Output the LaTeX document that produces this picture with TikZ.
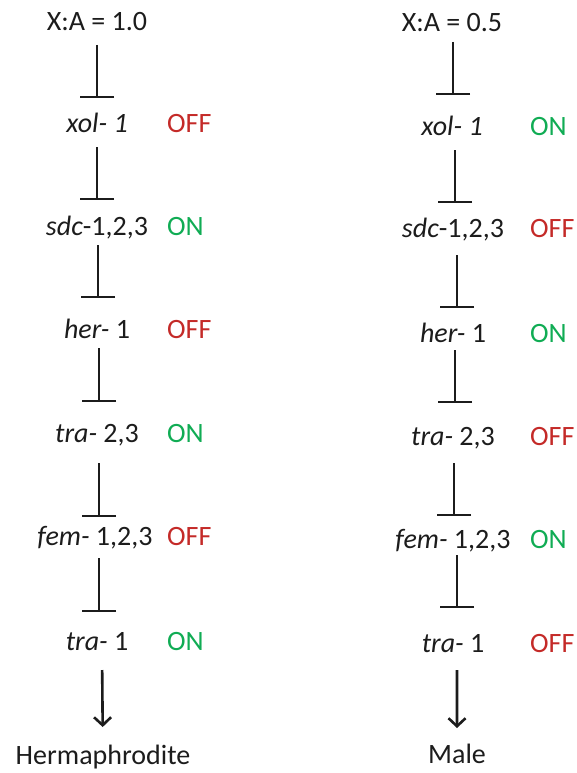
\documentclass[tikz,border=0pt]{standalone}
\usepackage{fontspec}
\setmainfont{Carlito}
\usetikzlibrary{arrows.meta}
\definecolor{ink}{RGB}{28,28,28}
\definecolor{offred}{RGB}{196,42,40}
\definecolor{ongreen}{RGB}{16,172,84}

\begin{document}
\begin{tikzpicture}[x=1bp, y=-1bp,
  every node/.style={inner sep=0pt, text=ink, font=\fontsize{28bp}{32bp}\selectfont},
  gene/.style={anchor=base},
  state/.style={anchor=base west},
  off/.style={state, text=offred},
  on/.style={state, text=ongreen},
  inhib/.style={draw=ink, line width=1.6bp, -{Bar[width=34bp, line width=1.7bp]}},
  act/.style={draw=ink, line width=2.6bp, -{Straight Barb[length=8bp, width=17bp, line width=2.6bp]}},
  gap/.style 2 args={shorten <=#1 bp, shorten >=#2 bp}]
\useasboundingbox (0,0) rectangle (577,773);

% ---- hermaphrodite pathway (X:A = 1.0)
\node[gene] (lxa)  at (97,31)  {X:A = 1.0};
\node[gene] (lxol) at (97,132) {\textit{xol- 1}};
\node[off]  (lxols) at (167,132) {OFF};
\node[gene] (lsdc) at (97,235) {\textit{sdc}-1,2,3};
\node[on]   (lsdcs) at (167,235) {ON};
\node[gene] (lher) at (97,338) {\textit{her-} 1};
\node[off]  (lhers) at (167,338) {OFF};
\node[gene] (ltra) at (97,442) {\textit{tra-} 2,3};
\node[on]   (ltras) at (167,442) {ON};
\node[gene] (lfem) at (95,545) {\textit{fem-} 1,2,3};
\node[off]  (lfems) at (167,545) {OFF};
\node[gene] (ltrb) at (97,650) {\textit{tra-} 1};
\node[on]   (ltrbs) at (167,650) {ON};
\node[gene] (lsex) at (103,764) {Hermaphrodite};

\draw[inhib, gap={14}{34}] (lxa.base) -- (lxol.base);
\draw[inhib, gap={15}{35}] (lxol.base) -- (lsdc.base);
\draw[inhib, gap={10}{40}] ([xshift=1bp]lsdc.base) -- ([xshift=1bp]lher.base);
\draw[inhib, gap={10}{40}] ([xshift=2bp]lher.base) -- ([xshift=2bp]ltra.base);
\draw[inhib, gap={21}{28}] ([xshift=2bp]ltra.base) -- ([xshift=4bp]lfem.base);
\draw[inhib, gap={13}{38}] ([xshift=4bp]lfem.base) -- ([xshift=2bp]ltrb.base);
\draw[act,   gap={20}{37}] ([xshift=5bp]ltrb.base) -- (lsex.base);

% ---- male pathway (X:A = 0.5)
\node[gene] (rxa)  at (452,32)  {X:A = 0.5};
\node[gene] (rxol) at (452,135) {\textit{xol- 1}};
\node[on]   (rxols) at (530,135) {ON};
\node[gene] (rsdc) at (453,237) {\textit{sdc}-1,2,3};
\node[off]  (rsdcs) at (530,237) {OFF};
\node[gene] (rher) at (453,342) {\textit{her-} 1};
\node[on]   (rhers) at (530,342) {ON};
\node[gene] (rtra) at (453,445) {\textit{tra-} 2,3};
\node[off]  (rtras) at (530,445) {OFF};
\node[gene] (rfem) at (453,548) {\textit{fem-} 1,2,3};
\node[on]   (rfems) at (530,548) {ON};
\node[gene] (rtrb) at (453,652) {\textit{tra-} 1};
\node[off]  (rtrbs) at (530,652) {OFF};
\node[gene] (rsex) at (457,763) {Male};

\draw[inhib, gap={10}{40}] ([xshift=1bp]rxa.base) -- ([xshift=1bp]rxol.base);
\draw[inhib, gap={15}{34}] ([xshift=3bp]rxol.base) -- ([xshift=2bp]rsdc.base);
\draw[inhib, gap={18}{34}] ([xshift=4bp]rsdc.base) -- ([xshift=4bp]rher.base);
\draw[inhib, gap={8}{42}]  ([xshift=2bp]rher.base) -- ([xshift=2bp]rtra.base);
\draw[inhib, gap={18}{32}] ([xshift=1bp]rtra.base) -- ([xshift=1bp]rfem.base);
\draw[inhib, gap={7}{44}]  ([xshift=4bp]rfem.base) -- ([xshift=4bp]rtrb.base);
\draw[act,   gap={18}{35}] ([xshift=4bp]rtrb.base) -- (rsex.base);
\end{tikzpicture}
\end{document}
